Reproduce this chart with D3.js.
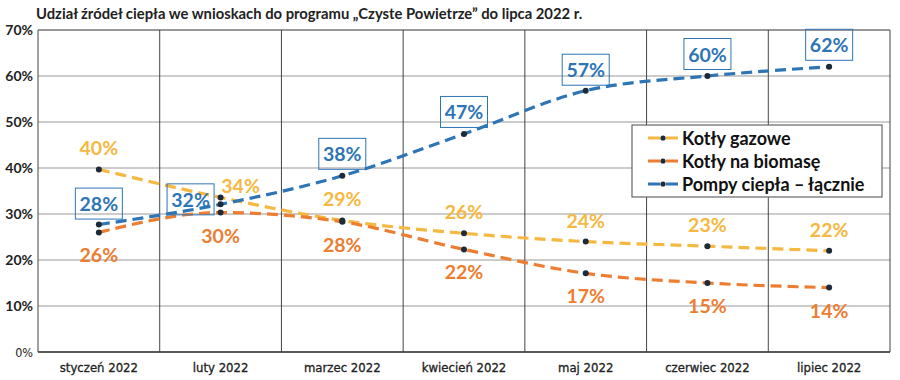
<!DOCTYPE html>
<html><head><meta charset="utf-8">
<script src="https://cdn.jsdelivr.net/npm/d3@7"></script>
<style>
body{margin:0;background:#fff;}
svg{display:block;}
</style></head>
<body>
<svg id="c" width="900" height="380"></svg>
<script>
const categories = ["styczeń 2022","luty 2022","marzec 2022","kwiecień 2022","maj 2022","czerwiec 2022","lipiec 2022"];
const gasValues = [39.7, 33.6, 28.6, 25.8, 24.0, 23.0, 22.0];
const biomassValues = [26.0, 30.3, 28.3, 22.3, 17.1, 15.0, 14.0];
const heatPumpValues = [27.7, 32.1, 38.3, 47.4, 56.8, 60.0, 62.0];
const gasLabels = ["40%","34%","29%","26%","24%","23%","22%"];
const biomassLabels = ["26%","30%","28%","22%","17%","15%","14%"];
const heatPumpLabels = ["28%","32%","38%","47%","57%","60%","62%"];
const yTicks = [0,10,20,30,40,50,60,70];
const seriesNames = ["Kotły gazowe","Kotły na biomasę","Pompy ciepła – łącznie"];

const colors = ["#F5B840","#ED7D31","#2E75B6"];
const svg = d3.select("#c");
const m = {l:38, r:890, t:30, b:352};
const x = d3.scaleBand().domain(categories).range([m.l, m.r]);
const y = d3.scaleLinear().domain([0,70]).range([m.b, m.t]);
const cx = c => x(c) + x.bandwidth()/2;

// title
svg.append("text").attr("x",36).attr("y",19)
  .attr("font-family","Lato, 'Open Sans', sans-serif").attr("font-weight","bold")
  .attr("font-size",14.8).attr("fill","#222")
  .text("Udział źródeł ciepła we wnioskach do programu „Czyste Powietrze” do lipca 2022 r.");

// horizontal gridlines
svg.append("g").selectAll("line").data(yTicks).join("line")
  .attr("x1",m.l).attr("x2",m.r).attr("y1",d=>y(d)).attr("y2",d=>y(d))
  .attr("stroke",d=> d===70 ? "#333" : (d===0 ? "#222":"#999")).attr("stroke-width",d=>d===0?1.5:1);
// vertical gridlines
const vx = categories.map(c=>x(c)).concat([m.r]);
svg.append("g").selectAll("line").data(vx).join("line")
  .attr("x1",d=>d).attr("x2",d=>d).attr("y1",m.t).attr("y2",m.b)
  .attr("stroke","#444").attr("stroke-width",1);

// y labels
svg.append("g").selectAll("text").data(yTicks).join("text")
  .attr("x",33).attr("y",d=>y(d)+5).attr("text-anchor","end")
  .attr("font-family", d=> d===0 ? "'DejaVu Sans Condensed', sans-serif" : "Lato, 'Open Sans', sans-serif")
  .attr("font-weight",d=>d===0?"normal":"bold").attr("font-size",d=>d===0?12.5:14).attr("fill","#222")
  .text(d=>d+"%");
// x labels
svg.append("g").selectAll("text").data(categories).join("text")
  .attr("x",d=>cx(d)).attr("y",372).attr("text-anchor","middle")
  .attr("font-family","'DejaVu Sans Condensed', sans-serif")
  .attr("font-size",13).attr("fill","#222").attr("stroke","#222").attr("stroke-width",0.3).text(d=>d);

const line = d3.line().x((d,i)=>cx(categories[i])).y(d=>y(d)).curve(d3.curveMonotoneX);
const allSeries = [gasValues, biomassValues, heatPumpValues];
allSeries.forEach((vals,k)=>{
  svg.append("path").attr("d",line(vals)).attr("fill","none")
    .attr("stroke",colors[k]).attr("stroke-width",3.2).attr("stroke-dasharray","11,6");
});
allSeries.forEach(vals=>{
  svg.append("g").selectAll("circle").data(vals).join("circle")
    .attr("cx",(d,i)=>cx(categories[i])).attr("cy",d=>y(d)).attr("r",3).attr("fill","#1d2a3a");
});

const lblFont = "Lato, 'Open Sans', sans-serif";
const lblSize = 19.5;
// gas labels above
const gasDx = [0,20,0,0,0,0,0];
const gasDy = [-14,-4,-14,-14,-14,-14,-14];
svg.append("g").selectAll("text").data(gasValues).join("text")
  .attr("x",(d,i)=>cx(categories[i])+gasDx[i]).attr("y",(d,i)=>y(d)+gasDy[i])
  .attr("text-anchor","middle").attr("font-family",lblFont).attr("font-weight","bold")
  .attr("font-size",lblSize).attr("fill","#F5B840").text((d,i)=>gasLabels[i]);
// biomass labels below
svg.append("g").selectAll("text").data(biomassValues).join("text")
  .attr("x",(d,i)=>cx(categories[i])).attr("y",d=>y(d)+30)
  .attr("text-anchor","middle").attr("font-family",lblFont).attr("font-weight","bold")
  .attr("font-size",lblSize).attr("fill","#ED7D31").text((d,i)=>biomassLabels[i]);
// heat pump boxed labels
const hpDx = [0,-30,0,0,0,0,0];
const hpDy = [-21,-5,-22,-22,-21,-22,-22];
const hg = svg.append("g").selectAll("g").data(heatPumpValues).join("g")
  .attr("transform",(d,i)=>`translate(${cx(categories[i])+hpDx[i]},${y(d)+hpDy[i]})`);
hg.append("rect").attr("x",-23.5).attr("y",-15.5).attr("width",47).attr("height",31)
  .attr("fill","#fff").attr("fill-opacity",0).attr("stroke","#2E75B6").attr("stroke-width",1);
hg.append("text").attr("y",7.5).attr("text-anchor","middle").attr("font-family",lblFont)
  .attr("font-weight","bold").attr("font-size",lblSize).attr("fill","#2E75B6").text((d,i)=>heatPumpLabels[i]);

// legend
const lg = svg.append("g").attr("transform","translate(632,125)");
lg.append("rect").attr("width",250).attr("height",72).attr("fill","#fff").attr("stroke","#666").attr("stroke-width",1.2);
seriesNames.forEach((n,k)=>{
  const yy = 13 + k*23;
  lg.append("line").attr("x1",16).attr("x2",48).attr("y1",yy).attr("y2",yy)
    .attr("stroke",colors[k]).attr("stroke-width",3).attr("stroke-dasharray","12,6");
  lg.append("circle").attr("cx",31).attr("cy",yy).attr("r",2.6).attr("fill","#1d2a3a");
  lg.append("text").attr("x",50).attr("y",yy+6.5).attr("font-family",lblFont).attr("font-weight","bold")
    .attr("font-size",18).attr("fill","#111").text(n);
});
</script>
</body></html>
